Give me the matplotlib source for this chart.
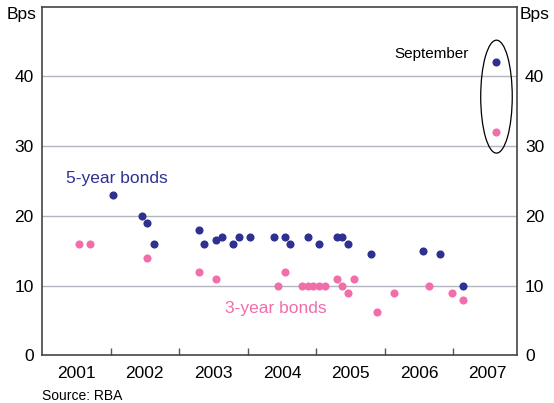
import matplotlib.pyplot as plt
from matplotlib.patches import Ellipse

plt.rcParams['font.family'] = ['Liberation Sans', 'DejaVu Sans']

navy = '#2E3192'
pink = '#F06EAA'

# 5-year bonds: date (fractional year), spread in bps
five_x = [2002.04, 2002.46, 2002.53, 2002.63, 2003.29, 2003.37, 2003.54, 2003.62,
          2003.79, 2003.87, 2004.03, 2004.38, 2004.54, 2004.62, 2004.88, 2005.04,
          2005.30, 2005.38, 2005.47, 2005.80, 2006.56, 2006.81, 2007.14, 2007.63]
five_y = [23, 20, 19, 16, 18, 16, 16.6, 17,
          16, 17, 17, 17, 17, 16, 17, 16,
          17, 17, 16, 14.6, 14.9, 14.6, 10, 42]

# 3-year bonds
three_x = [2001.54, 2001.70, 2002.53, 2003.29, 2003.54, 2004.45, 2004.54, 2004.79,
           2004.88, 2004.96, 2005.04, 2005.13, 2005.30, 2005.38, 2005.47, 2005.55,
           2005.88, 2006.14, 2006.64, 2006.98, 2007.14, 2007.63]
three_y = [16, 16, 14, 12, 11, 10, 12, 10,
           10, 10, 10, 10, 11, 10, 9, 11,
           6.2, 9, 10, 9, 8, 32]

years = [2001, 2002, 2003, 2004, 2005, 2006, 2007]
yticks = [0, 10, 20, 30, 40]

fig = plt.figure(figsize=(5.54, 4.03), dpi=100)
ax = fig.add_axes([42 / 554, 1 - 355.3 / 403, (516.7 - 42) / 554, (355.3 - 6.7) / 403])

ax.set_xlim(2001, 2007.925)
ax.set_ylim(0, 50)

for v in yticks[1:]:
    ax.axhline(v, color='#B2B6BE', lw=1, zorder=1)

ax.scatter(five_x, five_y, s=34, color=navy, zorder=3, linewidths=0)
ax.scatter(three_x, three_y, s=34, color=pink, zorder=3, linewidths=0)

ax.add_patch(Ellipse((2007.63, 37.1), 0.46, 16.2, fill=False, ec='black', lw=0.9, zorder=4))

ax.text(2001.35, 24.75, '5-year bonds', color=navy, fontsize=12.5, va='baseline')
ax.text(2003.67, 6.05, '3-year bonds', color=pink, fontsize=12.5, va='baseline')
ax.text(2007.22, 42.7, 'September', color='black', fontsize=11, va='baseline', ha='right')

# x axis: boundaries as ticks, year labels centred between
ax.set_xticks([y + 1 for y in years[:-1]])
ax.set_xticklabels([])
ax.set_xticks([y + 0.5 for y in years], minor=True)
ax.set_xticklabels([str(y) for y in years], minor=True, fontsize=12.5)
ax.tick_params(axis='x', which='major', direction='in', length=5, color='#555555', width=1)
ax.tick_params(axis='x', which='minor', length=0, pad=8)

ax.set_yticks(yticks)
ax.set_yticklabels([str(v) for v in yticks], fontsize=12.5)
ax.tick_params(axis='y', length=0, pad=6, labelright=True, right=False)

for s in ax.spines.values():
    s.set_color('#444444')
    s.set_linewidth(1.2)

fig.text(7 / 554, 1 - 19.3 / 403, 'Bps', fontsize=12.5, va='baseline')
fig.text(520 / 554, 1 - 19.3 / 403, 'Bps', fontsize=12.5, va='baseline')
fig.text(42 / 554, 1 - 400 / 403, 'Source: RBA', fontsize=10, va='baseline')

fig.savefig('out.png', dpi=100)
